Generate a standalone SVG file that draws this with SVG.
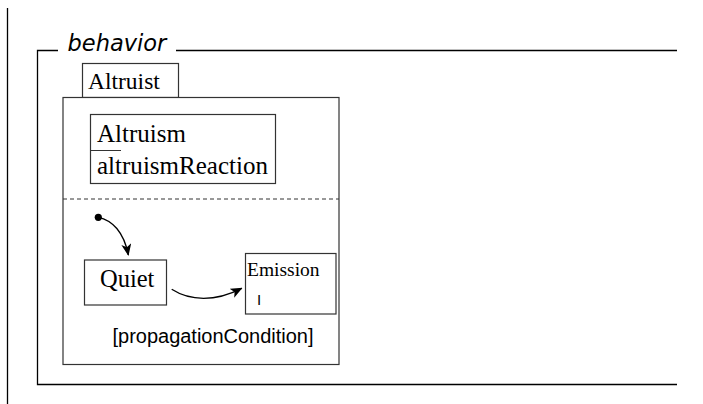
<svg xmlns="http://www.w3.org/2000/svg" width="703" height="404" viewBox="0 0 703 404">
<style>
.ln{stroke:#000;stroke-width:1.3;fill:none}
.bx{fill:#fff;stroke:#333;stroke-width:1.2}
.serif{font-family:"Liberation Serif","Times New Roman",serif;fill:#000}
.sans{font-family:"Liberation Sans",Arial,sans-serif;fill:#000}
</style>
<defs>
<marker id="ah" viewBox="0 0 12 10" refX="11" refY="5" markerWidth="12" markerHeight="10" markerUnits="userSpaceOnUse" orient="auto">
<path d="M0,0 L12,5 L0,10 L3,5 Z" fill="#000"/>
</marker>
</defs>
<rect width="703" height="404" fill="#fff"/>
<g id="page-margin"><line class="ln" x1="7.5" y1="8" x2="7.5" y2="404"/></g>
<g id="behavior-frame">
<path class="ln" d="M58,50.5 H37.5 V384.5 H677"/>
<line class="ln" x1="176" y1="50.5" x2="677" y2="50.5"/>
<text x="67.5" y="51" font-family="DejaVu Sans,sans-serif" font-style="italic" font-size="22.5" fill="#000">behavior</text>
</g>
<g id="altruist">
<rect class="bx" x="82.5" y="63.5" width="96" height="34"/>
<text class="serif" x="88" y="88.5" font-size="23.5">Altruist</text>
<rect class="bx" x="63" y="97.5" width="276" height="267"/>
<line x1="63" y1="199" x2="339" y2="199" stroke="#333" stroke-width="1" stroke-dasharray="4,3"/>
</g>
<g id="altruism">
<rect class="bx" x="90.5" y="114.5" width="185" height="69"/>
<text class="serif" x="97" y="141.5" font-size="25">Altruism</text>
<line x1="90.5" y1="150.5" x2="121" y2="150.5" stroke="#333" stroke-width="1"/>
<text class="serif" x="97" y="174" font-size="25" textLength="171">altruismReaction</text>
</g>
<g id="initial"><circle cx="98.3" cy="217.3" r="3.6" fill="#000"/></g>
<g id="quiet">
<rect class="bx" x="84.5" y="260" width="82" height="45"/>
<text class="serif" x="100" y="286.5" font-size="24.5">Quiet</text>
</g>
<g id="emission">
<rect class="bx" x="245.5" y="253.5" width="90.5" height="60.5"/>
<text class="serif" x="247" y="276" font-size="19.5">Emission</text>
<text class="sans" x="257" y="305" font-size="15">I</text>
</g>
<g id="connectors">
<path class="ln" d="M98.3,217.3 C112,220 124,232 128.3,255" marker-end="url(#ah)"/>
<path class="ln" d="M171.7,289.3 C190,301 215,302 241.7,288.3" marker-end="url(#ah)"/>
<text class="sans" x="112.5" y="343" font-size="20" textLength="201">[propagationCondition]</text>
</g>
</svg>
